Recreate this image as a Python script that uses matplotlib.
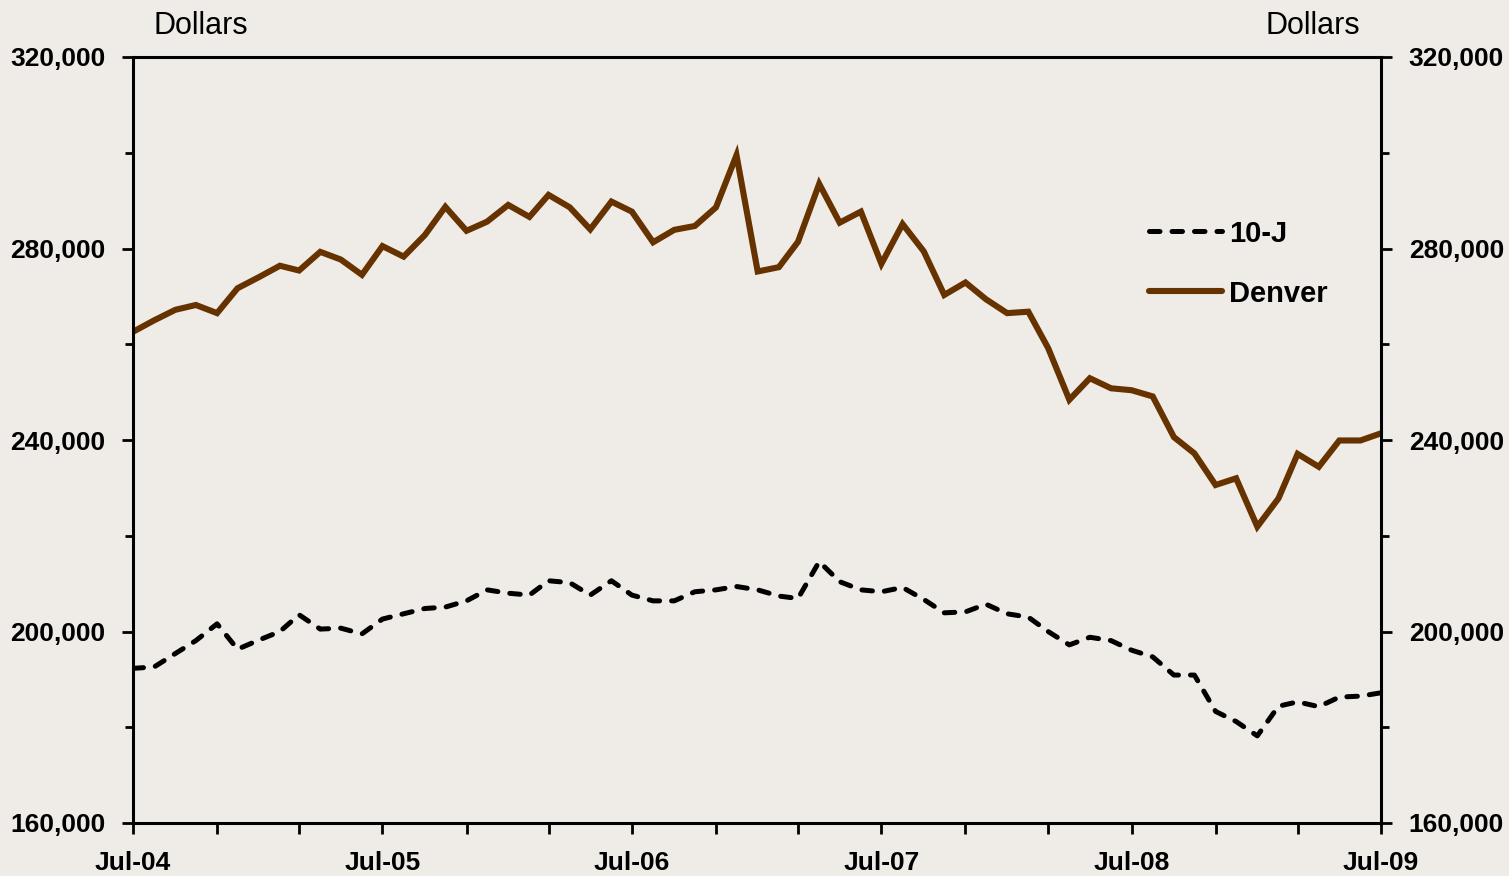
import numpy as np
import pandas as pd
import matplotlib
matplotlib.use("Agg")
import matplotlib.pyplot as plt
import matplotlib.dates as mdates
from matplotlib.ticker import MultipleLocator, FuncFormatter

# ── Data (monthly, Jul-04 .. Jul-09) ──────────────────────────────────────────
months = pd.date_range("2004-07-01", periods=61, freq="MS")

denver = [
    262600, 265000, 267200, 268200, 266500, 271700, 274000, 276400, 275400, 279300,
    277700, 274500, 280500, 278300, 282800, 288700, 283700, 285600, 289100, 286600,
    291200, 288600, 284000, 289800, 287700, 281300, 283900, 284700, 288600, 299500,
    275200, 276100, 281400, 293500, 285400, 287700, 276800, 285100, 279400, 270300,
    272900, 269400, 266500, 266800, 259200, 248400, 252900, 250800, 250400, 249100,
    240600, 237200, 230600, 232000, 221900, 227800, 237100, 234400, 239900, 239900,
    241400,
]

ten_j = [
    192300, 192600, 195400, 198100, 201600, 196300, 198200, 200000, 203500, 200500,
    200700, 199500, 202600, 203700, 204800, 205100, 206400, 208700, 208000, 207600,
    210600, 210200, 207600, 210600, 207600, 206400, 206400, 208300, 208700, 209400,
    208700, 207400, 206900, 214600, 210400, 208700, 208300, 209200, 206700, 203900,
    204100, 205700, 203700, 203000, 200000, 197200, 198800, 198100, 196100, 194700,
    190900, 190900, 183300, 181200, 178200, 184400, 185300, 184300, 186300, 186500,
    187200,
]

series_names = ["10-J", "Denver"]

# ── Style ─────────────────────────────────────────────────────────────────────
BG = "#EFECE8"
BROWN = "#663300"
plt.rcParams["font.family"] = ["Liberation Sans", "DejaVu Sans"]

fig = plt.figure(figsize=(15.09, 8.76), dpi=100, facecolor=BG)
ax = fig.add_axes([133 / 1509, 1 - 823 / 876, (1381 - 133) / 1509, (823 - 57) / 876])
ax.set_facecolor(BG)

l1, = ax.plot(months, ten_j, color="black", lw=3.6, dashes=(2.1, 2.4),
              dash_capstyle="round", solid_capstyle="round", label=series_names[0])
l2, = ax.plot(months, denver, color=BROWN, lw=4.4, solid_capstyle="round",
              solid_joinstyle="miter", label=series_names[1])

ax.set_xlim(months[0], months[-1])
ax.set_ylim(160000, 320000)

# ticks
ax.yaxis.set_major_locator(MultipleLocator(40000))
ax.yaxis.set_minor_locator(MultipleLocator(20000))
ax.yaxis.set_major_formatter(FuncFormatter(lambda v, p: f"{int(v):,}"))
ax.xaxis.set_major_locator(mdates.MonthLocator(bymonth=[7]))
ax.xaxis.set_minor_locator(mdates.MonthLocator(bymonth=[3, 7, 11]))
ax.xaxis.set_major_formatter(mdates.DateFormatter("%b-%y"))

ax.tick_params(axis="y", which="both", left=True, right=True,
               labelleft=True, labelright=True, direction="out", width=2)
ax.tick_params(axis="y", which="major", length=8)
ax.tick_params(axis="y", which="minor", length=6)
ax.tick_params(axis="x", which="both", bottom=True, top=False,
               direction="out", width=2, length=8, pad=12.5)
for t in ax.yaxis.get_major_ticks():
    t.set_pad(12)
    t.label1.set_fontsize(19)
    t.label1.set_fontweight("bold")
    t.label2.set_fontsize(19)
    t.label2.set_fontweight("bold")
for lab in ax.get_xticklabels():
    lab.set_fontsize(19)
    lab.set_fontweight("bold")

for s in ax.spines.values():
    s.set_linewidth(2.2)
    s.set_color("black")

# legend
leg = ax.legend(handles=[l1, l2], loc="upper left", bbox_to_anchor=(0.793, 0.822),
                frameon=False, handlelength=2.5, handletextpad=0.25,
                labelspacing=1.1, prop={"size": 21, "weight": "bold"})

# axis unit labels
fig.text(153 / 1509, 1 - 26 / 876, "Dollars", fontsize=22, ha="left", va="center")
fig.text(1360 / 1509, 1 - 26 / 876, "Dollars", fontsize=22, ha="right", va="center")

fig.savefig("out.png", dpi=100, facecolor=BG)
